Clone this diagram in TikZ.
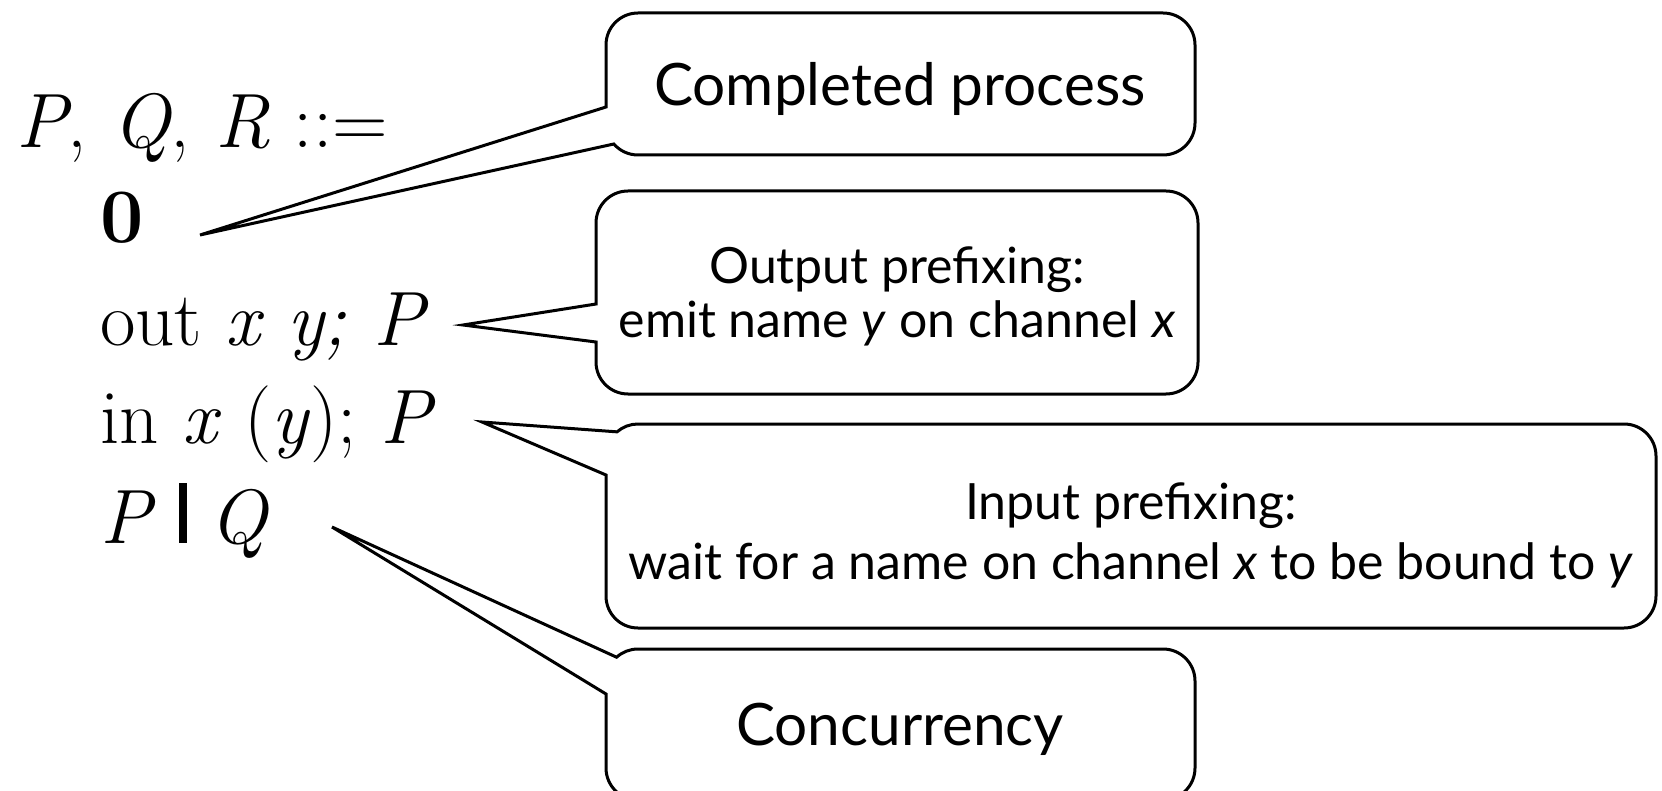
\documentclass[tikz,border=0pt]{standalone}
\usepackage{fontspec}
\newfontfamily\boxfont{Lato}
\begin{document}
\begin{tikzpicture}[x=1pt,y=-1pt,
  callout/.style={draw=black,line width=3pt,line join=miter,fill=white},
  lefttext/.style={anchor=base west,inner sep=0pt,font=\fontsize{77}{90}\selectfont},
  boxbig/.style={anchor=base,inner sep=0pt,font=\boxfont\fontsize{58.5}{68}\selectfont},
  boxsmall/.style={anchor=base,inner sep=0pt,font=\boxfont\fontsize{50}{60}\selectfont}]
\useasboundingbox (0,0) rectangle (1662,791);
\clip (0,0) rectangle (1662,791);
% grammar
\node[lefttext] (head) at (16,148) {\textit{P},\hspace{0.34em}\textit{Q},\hspace{0.34em}\textit{R}\hspace{0.3em}::=};
\node[lefttext] (zero) at (100,243) {\textbf{0}};
\node[lefttext] (outp) at (100,345) {out \textit{x y; P}};
\node[lefttext] (inp) at (100,443) {in \textit{x} (\textit{y}); \textit{P}};
\node[lefttext] (par) at (100,543) {\textit{P} \rule{8pt}{60pt} \textit{Q}};
% pointer tips
\coordinate (tip0) at (200,235);
\coordinate (tip1) at (463,325);
\coordinate (tip2) at (482,422);
\coordinate (tip3) at (332,527);
% callouts
\draw[callout] (606,107) -- (606,45) arc[start angle=180,end angle=270,radius=32]
  -- (1163,13) arc[start angle=270,end angle=360,radius=32]
  -- (1195,123) arc[start angle=0,end angle=90,radius=32]
  -- (638,155) arc[start angle=90,end angle=139,radius=32] -- (tip0) -- cycle;
\draw[callout] (596,304) -- (596,223) arc[start angle=180,end angle=270,radius=32]
  -- (1166,191) arc[start angle=270,end angle=360,radius=32]
  -- (1198,362) arc[start angle=0,end angle=90,radius=32]
  -- (628,394) arc[start angle=90,end angle=180,radius=32] -- (596,342) -- (tip1) -- cycle;
\draw[callout] (606,475) -- (606,596) arc[start angle=180,end angle=90,radius=32]
  -- (1624,628) arc[start angle=90,end angle=0,radius=32]
  -- (1656,456) arc[start angle=0,end angle=-90,radius=32]
  -- (638,424) arc[start angle=270,end angle=229,radius=32] -- (tip2) -- cycle;
\draw[callout] (606,694) -- (606,768) arc[start angle=180,end angle=90,radius=32]
  -- (1163,800) arc[start angle=90,end angle=0,radius=32]
  -- (1195,681) arc[start angle=0,end angle=-90,radius=32]
  -- (638,649) arc[start angle=270,end angle=228,radius=32] -- (tip3) -- cycle;
% callout texts
\node[boxbig] (c1) at (900,106) {Completed process};
\node[boxsmall] (c2a) at (897,284) {Output prefixing:};
\node[boxsmall] (c2b) at (897,338) {emit name \textit{y} on channel \textit{x}};
\node[boxsmall] (c3a) at (1131,519) {Input prefixing:};
\node[boxsmall] (c3b) at (1131,579) {wait for a name on channel \textit{x} to be bound to \textit{y}};
\node[boxbig] (c4) at (900,745) {Concurrency};
\end{tikzpicture}
\end{document}
